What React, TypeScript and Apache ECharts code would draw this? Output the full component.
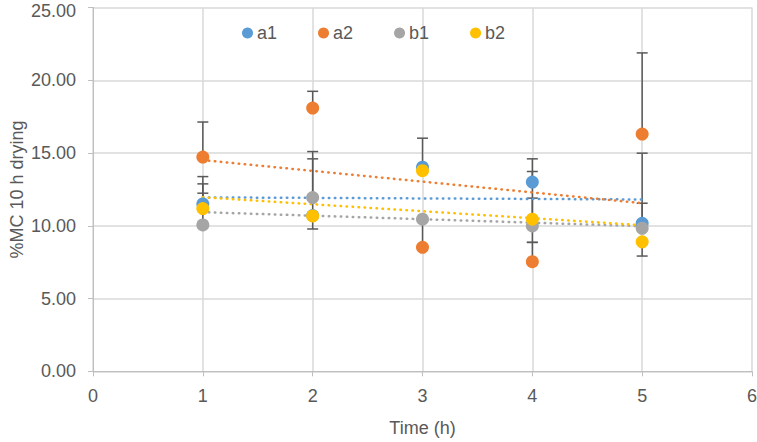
import React, { useEffect, useRef } from "react";
import * as echarts from "echarts";

const times = [1, 2, 3, 4, 5];
const xTicks = [0, 1, 2, 3, 4, 5, 6];

const a1 = [11.5, 10.7, 14.03, 13.0, 10.17];
const a2 = [14.72, 18.09, 8.52, 7.53, 16.3];
const b1 = [10.06, 11.94, 10.45, 9.99, 9.83];
const b2 = [11.18, 10.68, 13.79, 10.45, 8.9];

const a1Plus = [1.38, 3.9, 1.99, 1.6, 1.38];
const a1Minus = [0, 0, 0, 0, 0];
const a2Plus = [2.41, 1.15, 0, 1.33, 5.58];
const a2Minus = [0, 0, 0, 0, 0];
const b1Plus = [3.32, 3.16, 0, 1.91, 5.16];
const b1Minus = [0, 0, 1.85, 1.13, 0];
const b2Plus = [1.06, 0, 0, 3.28, 0];
const b2Minus = [0, 0.9, 0, 0, 0.98];

const seriesDefs = [
  { name: "a1", color: "#5B9BD5", values: a1, plus: a1Plus, minus: a1Minus },
  { name: "a2", color: "#ED7D31", values: a2, plus: a2Plus, minus: a2Minus },
  { name: "b1", color: "#A5A5A5", values: b1, plus: b1Plus, minus: b1Minus },
  { name: "b2", color: "#FFC000", values: b2, plus: b2Plus, minus: b2Minus },
];

function linearFit(xs: number[], ys: number[]) {
  const n = xs.length;
  const mx = xs.reduce((s, v) => s + v, 0) / n;
  const my = ys.reduce((s, v) => s + v, 0) / n;
  let num = 0;
  let den = 0;
  for (let i = 0; i < n; i++) {
    num += (xs[i] - mx) * (ys[i] - my);
    den += (xs[i] - mx) * (xs[i] - mx);
  }
  const slope = num / den;
  return (x: number) => my + slope * (x - mx);
}

const FONT = "Liberation Sans";
const TXT = "#595959";
const Y_MAX = 25;

export default function App() {
  const ref = useRef<HTMLDivElement>(null);
  useEffect(() => {
    if (!ref.current) return;
    const chart = echarts.init(ref.current, undefined, { renderer: "svg" });

    const errorData: number[][] = [];
    seriesDefs.forEach((s) => {
      times.forEach((t, i) => {
        const v = s.values[i];
        if (s.plus[i] > 0) errorData.push([t, v, v + s.plus[i]]);
        if (s.minus[i] > 0) errorData.push([t, v, v - s.minus[i]]);
      });
    });

    const barStyle = { stroke: "#595959", lineWidth: 1.5 };

    const series: any[] = [
      {
        type: "custom",
        name: "err",
        z: 1,
        silent: true,
        data: errorData,
        encode: { x: 0, y: [1, 2] },
        renderItem: (params: any, api: any) => {
          const p0 = api.coord([api.value(0), api.value(1)]);
          const p1 = api.coord([api.value(0), api.value(2)]);
          return {
            type: "group",
            children: [
              {
                type: "line",
                shape: { x1: p0[0], y1: p0[1], x2: p1[0], y2: p1[1] },
                style: barStyle,
              },
              {
                type: "line",
                shape: { x1: p1[0] - 5.5, y1: p1[1], x2: p1[0] + 5.5, y2: p1[1] },
                style: barStyle,
              },
            ],
          };
        },
      },
    ];

    seriesDefs.forEach((s) => {
      const f = linearFit(times, s.values);
      const x0 = times[0];
      const x1 = times[times.length - 1];
      series.push({
        type: "line",
        name: s.name + " trend",
        z: 2,
        silent: true,
        showSymbol: false,
        symbol: "none",
        data: [
          [x0, f(x0)],
          [x1, f(x1)],
        ],
        lineStyle: { color: s.color, width: 2.5, type: [0.5, 5.5], cap: "round" },
      });
    });

    seriesDefs.forEach((s) => {
      series.push({
        type: "scatter",
        name: s.name,
        z: 3,
        symbol: "circle",
        symbolSize: 13,
        itemStyle: { color: s.color, opacity: 1 },
        data: times.map((t, i) => [t, s.values[i]]),
      });
    });

    chart.setOption({
      animation: false,
      backgroundColor: "#ffffff",
      textStyle: { fontFamily: FONT },
      grid: {
        left: 93,
        right: 5,
        top: 7.5,
        bottom: 70.7,
        containLabel: false,
        outerBoundsMode: "none",
      },
      legend: {
        data: seriesDefs.map((s) => s.name),
        left: 237,
        top: 19,
        icon: "circle",
        itemWidth: 11,
        itemHeight: 11,
        itemGap: 41,
        textStyle: { color: TXT, fontSize: 18, fontFamily: FONT, padding: [0, 0, 0, -1] },
      },
      xAxis: {
        type: "value",
        min: xTicks[0],
        max: xTicks[xTicks.length - 1],
        interval: 1,
        name: "Time (h)",
        nameLocation: "middle",
        nameGap: 48,
        nameMoveOverlap: false,
        nameTextStyle: { color: TXT, fontSize: 18, fontFamily: FONT },
        axisLine: { show: true, lineStyle: { color: "#BFBFBF", width: 1 } },
        axisTick: { show: true, length: 5, lineStyle: { color: "#BFBFBF" } },
        axisLabel: { color: TXT, fontSize: 18, fontFamily: FONT, margin: 16 },
        splitLine: { show: true, lineStyle: { color: "#D9D9D9", width: 1.5 } },
      },
      yAxis: {
        type: "value",
        min: 0,
        max: Y_MAX,
        interval: 5,
        name: "%MC 10 h drying",
        nameLocation: "middle",
        nameGap: 67,
        nameMoveOverlap: false,
        nameTextStyle: { color: TXT, fontSize: 18, fontFamily: FONT },
        axisLine: { show: true, lineStyle: { color: "#BFBFBF", width: 1 } },
        axisTick: { show: true, length: 5, lineStyle: { color: "#BFBFBF" } },
        axisLabel: {
          color: TXT,
          fontSize: 18,
          fontFamily: FONT,
          margin: 17,
          formatter: (v: number) =>
            v === Y_MAX ? `{t|${v.toFixed(2)}}` : v.toFixed(2),
          rich: {
            t: { color: TXT, fontSize: 18, fontFamily: FONT, padding: [6, 0, 0, 0] },
          },
        },
        splitLine: { show: true, lineStyle: { color: "#D9D9D9", width: 1.5 } },
      },
      series,
    });

    return () => chart.dispose();
  }, []);

  return (
    <div
      ref={ref}
      style={{ position: "fixed", left: 0, top: 0, width: 757, height: 442 }}
    />
  );
}
